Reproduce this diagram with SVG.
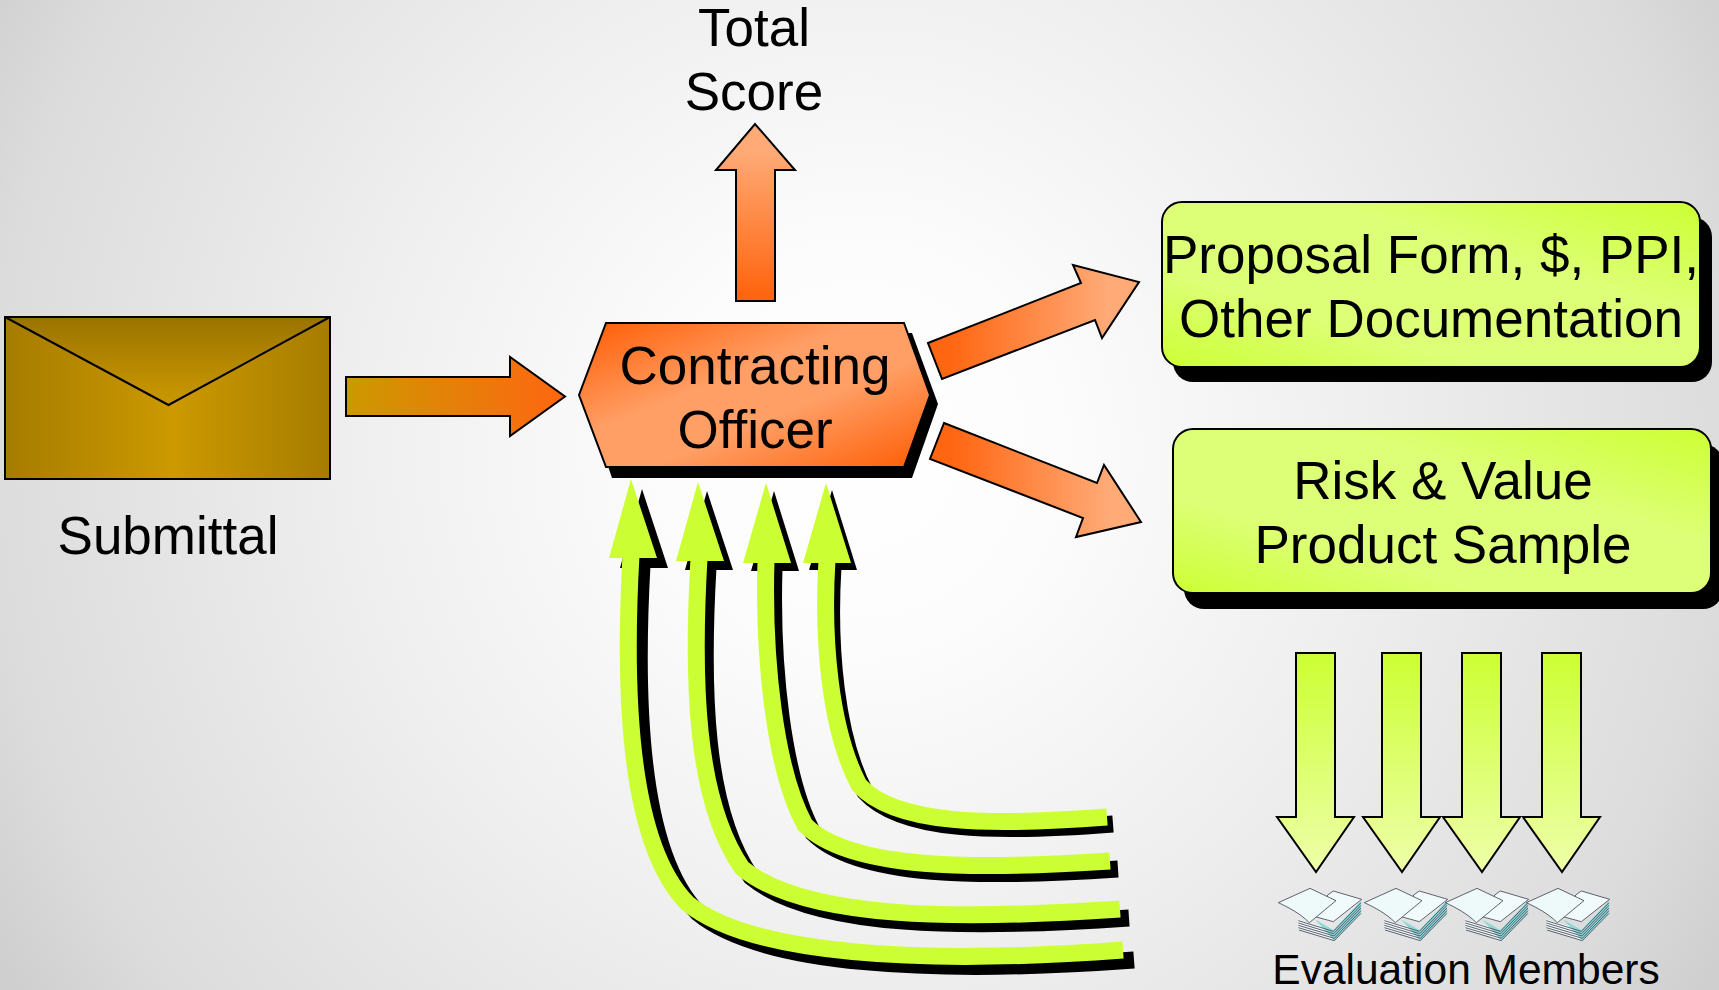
<svg xmlns="http://www.w3.org/2000/svg" xmlns:xlink="http://www.w3.org/1999/xlink" width="1719" height="990" viewBox="0 0 1719 990">
<style>
text{font-family:"Liberation Sans",Arial,sans-serif;fill:#000;text-anchor:middle;font-size:53px}
.o{stroke:#000;stroke-width:2}
.curve{fill:none;stroke-width:17}
.lime{fill:#ccff33}
.shadow{fill:#000}
</style>
<defs>
<radialGradient id="bg" gradientUnits="userSpaceOnUse" cx="860" cy="450" r="1000">
<stop offset="0" stop-color="#fff"/><stop offset=".2" stop-color="#fcfcfc"/><stop offset=".5" stop-color="#efefef"/><stop offset=".87" stop-color="#dcdcdc"/><stop offset="1" stop-color="#cfcfcf"/>
</radialGradient>
<linearGradient id="env"><stop offset="0" stop-color="#a67c00"/><stop offset=".52" stop-color="#cc9900"/><stop offset="1" stop-color="#a67c00"/></linearGradient>
<linearGradient id="flap" x1="0" y1="0" x2="0" y2="1"><stop offset="0" stop-color="#9a7300"/><stop offset=".75" stop-color="#c09000"/><stop offset="1" stop-color="#c99700"/></linearGradient>
<linearGradient id="toOrange"><stop offset="0" stop-color="#cc9900"/><stop offset="1" stop-color="#ff6611"/></linearGradient>
<linearGradient id="hex" x1="0" y1="0" x2="1" y2="1"><stop offset=".06" stop-color="#ff6611"/><stop offset=".4" stop-color="#ff9f66"/><stop offset=".6" stop-color="#ff9f66"/><stop offset=".94" stop-color="#ff6611"/></linearGradient>
<linearGradient id="up" x1="0" y1="1" x2="0" y2="0"><stop offset=".05" stop-color="#ff6611"/><stop offset=".85" stop-color="#ffaa77"/></linearGradient>
<linearGradient id="right"><stop offset=".1" stop-color="#ff6611"/><stop offset=".85" stop-color="#ffaa77"/></linearGradient>
<linearGradient id="box" x1="0" y1="1" x2="1" y2="0"><stop offset="0" stop-color="#ccff33"/><stop offset=".3" stop-color="#ddff77"/><stop offset=".65" stop-color="#ddff77"/><stop offset="1" stop-color="#ccff33"/></linearGradient>
<linearGradient id="down" x1="0" y1="0" x2="0" y2="1"><stop offset="0" stop-color="#ccff33"/><stop offset="1" stop-color="#eeffaa"/></linearGradient>
<g id="papers" transform="translate(1275 880) scale(.3333)" stroke-linejoin="round">
<path d="M70,118 L175,150 L258,62 L258,100 L178,182 L70,148Z" fill="#eef8f8"/>
<path d="M120,118 L175,150 L258,62 L258,100 L178,182 Z" fill="#8fd8d8"/>
<g fill="none" stroke="#445" stroke-width="2.500">
<path d="M70,122 L175,154 L258,68"/>
<path d="M70,129 L176,161 L258,76"/>
<path d="M70,136 L177,168 L258,84"/>
<path d="M70,143 L178,175 L258,92"/>
<path d="M72,150 L178,182 L258,100"/>
</g>
<path d="M158,45 L175,33 L260,58 L175,125 L120,110 C140,90 150,70 158,45Z" fill="#f2fbfb" stroke="#445" stroke-width="2.500"/>
<path d="M10,68 L105,25 L183,62 L103,128 C75,100 40,82 10,68Z" fill="#eef9f9" stroke="#445" stroke-width="2.500"/>
</g>
</defs>
<rect width="1719" height="990" fill="url(#bg)"/>
<g id="connectors">
<polygon id="arrow-submittal" class="o" fill="url(#toOrange)" points="346,377 510,377 510,357 565,396.500 510,436 510,416 346,416"/>
<polygon id="arrow-total" class="o" fill="url(#up)" points="736,301 736,170 716,170 755,124 795,170 775,170 775,301"/>
<polygon id="arrow-proposal" class="o" fill="url(#right)" points="928,343 1081,283 1073,265 1139,282 1102,338 1095,320 942,379"/>
<polygon id="arrow-risk" class="o" fill="url(#right)" points="944,423 1097,483 1104,465 1141,522 1076,537 1083,518 930,459"/>
<g id="curved-shadows" class="shadow">
<g transform="translate(11 10)"><path class="curve" stroke="#000" d="M631,555 C624,680 626,840 687,903 C750,955 920,965 1123,950"/><polygon points="631,479 657,558 609,558"/></g>
<g transform="translate(9 9)"><path class="curve" stroke="#000" d="M699,558 C692,680 695,800 742,868 C805,920 960,920 1120,909"/><polygon points="698,482 724,561 676,561"/></g>
<g transform="translate(8 8)"><path class="curve" stroke="#000" d="M766,560 C763,660 775,770 805,825 C850,870 975,870 1110,861"/><polygon points="766,483 791,563 743,563"/></g>
<g transform="translate(6 7)"><path class="curve" stroke="#000" d="M827,560 C822,640 830,730 859,785 C895,825 990,826 1107,817"/><polygon points="826,483 851,563 803,563"/></g>
</g>
<g id="curved-arrows" class="lime">
<path class="curve" stroke="#ccff33" d="M631,555 C624,680 626,840 687,903 C750,955 920,965 1123,950"/>
<polygon points="631,479 657,558 609,558"/>
<path class="curve" stroke="#ccff33" d="M699,558 C692,680 695,800 742,868 C805,920 960,920 1120,909"/>
<polygon points="698,482 724,561 676,561"/>
<path class="curve" stroke="#ccff33" d="M766,560 C763,660 775,770 805,825 C850,870 975,870 1110,861"/>
<polygon points="766,483 791,563 743,563"/>
<path class="curve" stroke="#ccff33" d="M827,560 C822,640 830,730 859,785 C895,825 990,826 1107,817"/>
<polygon points="826,483 851,563 803,563"/>
</g>
<g id="down-arrows" class="o" fill="url(#down)">
<polygon points="1296,653 1335,653 1335,817 1354,817 1316,872 1277,817 1296,817"/>
<polygon points="1382,653 1421,653 1421,817 1440,817 1402,872 1363,817 1382,817"/>
<polygon points="1462,653 1501,653 1501,817 1520,817 1482,872 1443,817 1462,817"/>
<polygon points="1542,653 1581,653 1581,817 1600,817 1562,872 1523,817 1542,817"/>
</g>
</g>
<g id="node-submittal">
<rect x="5" y="317" width="325" height="162" fill="url(#env)" stroke="#000" stroke-width="2"/>
<polygon points="5,317 330,317 168.500,405" fill="url(#flap)" stroke="#000" stroke-width="2"/>
<text x="168" y="554">Submittal</text>
</g>
<g id="node-total-score">
<text x="754" y="46">Total</text>
<text x="754" y="110">Score</text>
</g>
<g id="node-contracting-officer">
<polygon class="shadow" points="614,333 912,333 938,404 912,478 612,478 587,404"/>
<polygon points="579,395 606,323 904,323 930,395 904,467 606,467" fill="url(#hex)" stroke="#000" stroke-width="2"/>
<text x="755" y="384">Contracting</text>
<text x="755" y="448">Officer</text>
</g>
<g id="node-proposal">
<rect class="shadow" x="1173" y="217" width="539" height="165" rx="20"/>
<rect x="1162" y="202" width="538" height="165" rx="20" fill="url(#box)" stroke="#000" stroke-width="2"/>
<text x="1431" y="273">Proposal Form, $, PPI,</text>
<text x="1431" y="337">Other Documentation</text>
</g>
<g id="node-risk">
<rect class="shadow" x="1184" y="444" width="539" height="165" rx="20"/>
<rect x="1173" y="429" width="538" height="164" rx="20" fill="url(#box)" stroke="#000" stroke-width="2"/>
<text x="1443" y="499">Risk &amp; Value</text>
<text x="1443" y="563">Product Sample</text>
</g>
<g id="node-evaluation-members">
<use xlink:href="#papers"/>
<use xlink:href="#papers" x="86"/>
<use xlink:href="#papers" x="167"/>
<use xlink:href="#papers" x="248"/>
<text x="1466" y="984" style="font-size:42.500px">Evaluation Members</text>
</g>
</svg>
